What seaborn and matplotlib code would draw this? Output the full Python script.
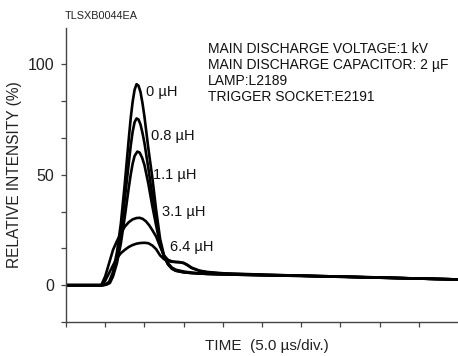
import numpy as np
import pandas as pd
import matplotlib
matplotlib.use("Agg")
import matplotlib.pyplot as plt
import seaborn as sns

# Time axis (µs) and relative intensity (%) for each series inductance
inductances = ["0 µH", "0.8 µH", "1.1 µH", "3.1 µH", "6.4 µH"]

t_0 = [0, 4.5, 5.0, 5.5, 6.0, 6.5, 7.0, 7.5, 8.0, 8.25, 8.5, 8.75, 9.0, 9.25, 9.5,
       9.75, 10.0, 10.5, 11.0, 11.5, 12.0, 12.5, 13.0, 13.5, 14.0, 15.0, 16.0,
       17.0, 18.0, 20.0, 25.0, 30.0, 35.0, 40.0, 45.0, 50.0]
v_0 = [0, 0, 0.3, 1.5, 6, 15, 28, 46, 66, 75.5, 83, 88.5, 91, 90.3, 87.5,
       82.5, 76.5, 62, 49, 34, 21, 13.5, 9.5, 7.5, 6.5, 5.8, 5.5,
       5.3, 5.1, 4.9, 4.5, 4.2, 3.8, 3.4, 3.0, 2.6]

t_08 = [0, 4.6, 5.1, 5.5, 6.0, 6.5, 7.0, 7.5, 8.0, 8.25, 8.5, 8.75, 9.0, 9.25, 9.5,
        9.75, 10.0, 10.5, 11.0, 11.5, 12.0, 12.5, 13.0, 13.5, 14.0, 15.0, 16.0,
        17.0, 18.0, 20.0, 25.0, 30.0, 35.0, 40.0, 45.0, 50.0]
v_08 = [0, 0, 0.3, 1.2, 5, 12.5, 24, 39, 55, 63, 69.5, 73.8, 75.5, 75, 72.8,
        69, 64.5, 53, 41, 29, 19, 13, 9.5, 7.5, 6.6, 5.9, 5.5,
        5.3, 5.1, 4.9, 4.5, 4.2, 3.8, 3.4, 3.0, 2.6]

t_11 = [0, 4.8, 5.2, 5.6, 6.0, 6.5, 7.0, 7.5, 8.0, 8.25, 8.5, 8.75, 9.1, 9.4, 9.7,
        10.0, 10.5, 11.0, 11.5, 12.0, 12.5, 13.0, 13.5, 14.0, 15.0, 16.0, 17.0,
        18.0, 20.0, 25.0, 30.0, 35.0, 40.0, 45.0, 50.0]
v_11 = [0, 0, 0.3, 1.0, 4, 10, 19, 31, 44, 50, 55, 58.5, 60.5, 60, 57.8,
        54.5, 46, 36, 27, 18.5, 13, 10, 8, 7, 6.2, 5.7, 5.4,
        5.2, 5.0, 4.6, 4.3, 3.9, 3.4, 3.0, 2.6]

t_31 = [0, 4.5, 5.0, 5.5, 6.0, 6.5, 7.0, 7.5, 8.0, 8.5, 9.0, 9.4, 9.8, 10.2, 10.6,
        11.0, 11.5, 12.0, 12.5, 13.0, 13.5, 14.0, 14.5, 15.0, 15.5, 16.0, 17.0,
        18.0, 20.0, 25.0, 30.0, 35.0, 40.0, 45.0, 50.0]
v_31 = [0, 0, 4.0, 10, 16, 20, 23.5, 26.5, 28.5, 29.8, 30.4, 30.5, 30.0, 28.9, 27.2,
        25, 22, 17.5, 13.5, 11.5, 10.8, 10.5, 10.4, 10.0, 9.0, 7.8, 6.5,
        5.8, 5.2, 4.7, 4.3, 3.9, 3.5, 3.0, 2.6]

t_64 = [0, 4.6, 5.0, 5.5, 6.0, 6.5, 7.0, 7.5, 8.0, 8.5, 9.0, 9.5, 10.0, 10.5, 11.0,
        11.5, 12.0, 12.5, 13.0, 13.5, 14.0, 14.5, 15.0, 15.5, 16.0, 17.0, 18.0,
        20.0, 25.0, 30.0, 35.0, 40.0, 45.0, 50.0]
v_64 = [0, 0, 2.0, 5.5, 9, 12.3, 14.5, 16, 17.3, 18.2, 18.8, 19.1, 19.2, 19.0, 18.0,
        16.3, 13.5, 11.8, 10.9, 10.6, 10.5, 10.4, 10.1, 9.2, 8.0, 6.6, 6.0,
        5.4, 4.8, 4.3, 3.9, 3.5, 3.0, 2.6]

series_t = [t_0, t_08, t_11, t_31, t_64]
series_v = [v_0, v_08, v_11, v_31, v_64]

# where each inductance label sits (time, intensity)
label_t = [10.2, 10.8, 11.05, 12.2, 13.25]
label_v = [87.5, 67.5, 49.8, 33.2, 17.4]

info_lines = [
    "MAIN DISCHARGE VOLTAGE:1 kV",
    "MAIN DISCHARGE CAPACITOR: 2 µF",
    "LAMP:L2189",
    "TRIGGER SOCKET:E2191",
]

frames = []
for name, t, v in zip(inductances, series_t, series_v):
    frames.append(pd.DataFrame({"time": t, "intensity": v, "L": name}))
df = pd.concat(frames, ignore_index=True)

sns.set_theme(style="white")
plt.rcParams["font.family"] = ["Liberation Sans", "DejaVu Sans"]

fig = plt.figure(figsize=(4.58, 3.56), dpi=100)
ax = fig.add_axes([66 / 458, 1 - 322 / 356, 1 - 66 / 458, (322 - 27.5) / 356])

sns.lineplot(data=df, x="time", y="intensity", hue="L", palette=["black"] * 5,
             linewidth=1.9, legend=False, ax=ax, estimator=None, sort=False)

ax.set_xlim(0, 50)
ax.set_ylim(-100 / 6, 700 / 6)
ax.set_xticks(np.arange(0, 50, 5))
ax.set_xticklabels([])
yt = np.arange(-1, 7) * 100 / 6
ax.set_yticks(yt)
ax.set_yticklabels(["" if abs(y - round(y / 50) * 50) > 1e-6 else f"{int(round(y))}" for y in yt])

for side in ["top", "right"]:
    ax.spines[side].set_visible(False)
for side in ["left", "bottom"]:
    ax.spines[side].set_color("#444444")
    ax.spines[side].set_linewidth(1.0)
ax.tick_params(axis="both", direction="out", length=3.5, width=0.9, color="#444444",
               labelsize=11.5, labelcolor="#222222", pad=5)
ax.tick_params(axis="x", bottom=True)
ax.tick_params(axis="y", left=True)

ax.set_xlabel("TIME  (5.0 µs/div.)", fontsize=11, color="#222222")
ax.set_ylabel("RELATIVE INTENSITY (%)", fontsize=11.2, color="#222222")
ax.xaxis.set_label_coords((267 - 66) / 392, -(339 - 322) / 294.5)
ax.yaxis.set_label_coords(-(66 - 22) / 392, 0.5)

for name, lt, lv in zip(inductances, label_t, label_v):
    ax.text(lt, lv, name, ha="left", va="center", fontsize=10.5, color="#111111")

info_y = [105.3, 97.9, 90.6, 83.3]
for line, yy in zip(info_lines, info_y):
    ax.text(18.05, yy, line, ha="left", va="baseline", fontsize=10, color="#111111")

fig.text(65 / 458, 1 - 19.3 / 356, "TLSXB0044EA", ha="left", va="baseline",
         fontsize=7.8, color="#222222")

fig.savefig("out.png", dpi=100)
